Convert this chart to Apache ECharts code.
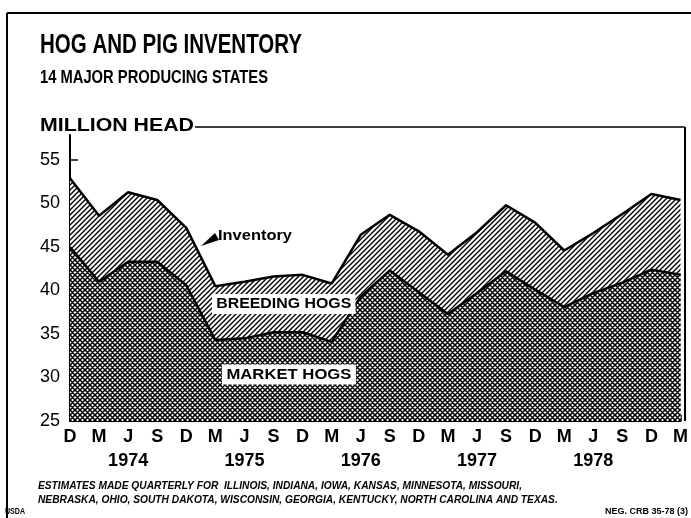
<!DOCTYPE html>
<html>
<head>
<meta charset="utf-8">
<script src="https://cdn.jsdelivr.net/npm/echarts@6/dist/echarts.min.js"></script>
<style>
html,body{margin:0;padding:0;background:#fff;}
#chart-container{width:691px;height:518px;}
</style>
</head>
<body>
<div id="chart-container"></div>
<script>
// quarters Dec 1973 .. Mar 1979
var quarters = ['D','M','J','S','D','M','J','S','D','M','J','S','D','M','J','S','D','M','J','S','D','M'];
var yearLabels = ['','','1974','','','','1975','','','','1976','','','','1977','','','','1978','','',''];
// total inventory (top line) and market hogs (lower line), million head
var inventory  = [52.9, 48.6, 51.3, 50.4, 47.2, 40.5, 41.0, 41.6, 41.8, 40.8, 46.4, 48.7, 46.8, 44.1, 46.7, 49.8, 47.8, 44.6, 46.6, 48.8, 51.1, 50.4];
var marketHogs = [45.0, 41.0, 43.3, 43.3, 40.6, 34.3, 34.5, 35.2, 35.2, 34.1, 39.3, 42.3, 39.8, 37.3, 39.7, 42.2, 40.1, 38.1, 39.7, 40.9, 42.4, 41.8];
var yTicks = [25, 30, 35, 40, 45, 50, 55];

var FONT = '"Liberation Sans", Arial, sans-serif';

// hatch fills
function hatch(size, cross, lw){
    var c = document.createElement('canvas');
    c.width = size; c.height = size;
    var ctx = c.getContext('2d');
    ctx.fillStyle = '#fff';
    ctx.fillRect(0, 0, size, size);
    ctx.strokeStyle = '#000';
    ctx.lineWidth = lw;
    ctx.beginPath();
    ctx.moveTo(-1, size + 1); ctx.lineTo(size + 1, -1);
    ctx.moveTo(-1, 1); ctx.lineTo(1, -1);
    ctx.moveTo(size - 1, size + 1); ctx.lineTo(size + 1, size - 1);
    if(cross){
        ctx.moveTo(-1, -1); ctx.lineTo(size + 1, size + 1);
        ctx.moveTo(size - 1, -1); ctx.lineTo(size + 1, 1);
        ctx.moveTo(-1, size - 1); ctx.lineTo(1, size + 1);
    }
    ctx.stroke();
    return c;
}

var measureCtx = document.createElement('canvas').getContext('2d');
function fit(text, font, width){
    measureCtx.font = font;
    return width / measureCtx.measureText(text).width;
}
function label(text, x, y, size, weight, width, extra){
    var font = weight + ' ' + size + 'px ' + FONT;
    var st = {text: text, font: font, fill: '#000', align: 'left', verticalAlign: 'middle'};
    for(var k in (extra || {})) st[k] = extra[k];
    return {type: 'text', x: x, y: y, z: 100, scaleX: width ? fit(text, font, width) : 1, style: st};
}
function rule(x1, y1, x2, y2, w){
    return {type: 'line', z: 90, shape: {x1: x1, y1: y1, x2: x2, y2: y2}, style: {stroke: '#000', lineWidth: w}};
}

var noteScale = fit('ESTIMATES MADE QUARTERLY FOR  ILLINOIS, INDIANA, IOWA, KANSAS, MINNESOTA, MISSOURI,', 'italic bold 10px ' + FONT, 484);

var option = {
    animation: false,
    backgroundColor: '#fff',
    grid: {left: 70, right: 7, top: 135, bottom: 97, containLabel: false},
    xAxis: {
        type: 'category',
        data: quarters,
        boundaryGap: false,
        axisLine: {lineStyle: {color: '#000', width: 2}},
        axisTick: {show: true, inside: true, length: 6, interval: 0, lineStyle: {color: '#000', width: 1.5}},
        axisLabel: {
            interval: 0,
            margin: 7,
            color: '#000',
            fontFamily: FONT,
            fontSize: 18,
            fontWeight: 'bold',
            lineHeight: 18,
            formatter: function(value, idx){
                return yearLabels[idx] ? value + '\n{yr|' + yearLabels[idx] + '}' : value;
            },
            rich: {
                yr: {fontFamily: FONT, fontSize: 18, fontWeight: 'bold', color: '#000', lineHeight: 31}
            }
        },
        splitLine: {show: false}
    },
    yAxis: {
        type: 'value',
        min: 25,
        max: 25 + 30 * 286 / 261,
        interval: 5,
        axisLine: {show: true, lineStyle: {color: '#000', width: 2}},
        axisTick: {show: true, inside: true, length: 8, customValues: yTicks, lineStyle: {color: '#000', width: 1.5}},
        axisLabel: {
            customValues: yTicks,
            margin: 10,
            color: '#000',
            fontFamily: FONT,
            fontSize: 18
        },
        splitLine: {show: false}
    },
    series: [
        {
            type: 'line',
            name: 'Inventory',
            data: inventory,
            symbol: 'none',
            z: 2,
            lineStyle: {color: '#000', width: 2.5},
            areaStyle: {color: {image: hatch(5, false, 1.4), repeat: 'repeat'}, opacity: 1, origin: 'start'}
        },
        {
            type: 'line',
            name: 'Market hogs',
            data: marketHogs,
            symbol: 'none',
            z: 3,
            lineStyle: {color: '#000', width: 2.5},
            areaStyle: {color: {image: hatch(5, true, 1.5), repeat: 'repeat'}, opacity: 1, origin: 'start'}
        }
    ],
    graphic: {elements: [
        rule(7, 13, 691, 13, 2),
        rule(7, 13, 7, 518, 2),
        rule(195, 127, 685, 127, 1.5),
        rule(685, 127, 685, 421, 2),
        label('HOG AND PIG INVENTORY', 40, 46, 27, 'bold', 262),
        label('14 MAJOR PRODUCING STATES', 40, 78, 18, 'bold', 228),
        label('MILLION HEAD', 40, 126, 19, 'bold', 154),
        label('Inventory', 218, 236, 15, 'bold', 74),
        {type: 'polygon', z: 100, shape: {points: [[201, 246], [215, 233], [219, 240]]}, style: {fill: '#000'}},
        label('BREEDING HOGS', 212, 304, 15, 'bold', 135, {backgroundColor: '#fff', padding: [3, 4, 2, 4]}),
        label('MARKET HOGS', 222, 374.5, 15, 'bold', 125, {backgroundColor: '#fff', padding: [3, 4, 2, 4]}),
        {type: 'text', x: 38, y: 486, z: 100, scaleX: noteScale, style: {text: 'ESTIMATES MADE QUARTERLY FOR  ILLINOIS, INDIANA, IOWA, KANSAS, MINNESOTA, MISSOURI,', font: 'italic bold 10px ' + FONT, fill: '#000', verticalAlign: 'middle'}},
        {type: 'text', x: 38, y: 500, z: 100, scaleX: noteScale, style: {text: 'NEBRASKA, OHIO, SOUTH DAKOTA, WISCONSIN, GEORGIA, KENTUCKY, NORTH CAROLINA AND TEXAS.', font: 'italic bold 10px ' + FONT, fill: '#000', verticalAlign: 'middle'}},
        label('USDA', 5, 512, 9, 'bold', 20),
        label('NEG. CRB 35-78 (3)', 688, 512, 9, 'bold', 0, {align: 'right'})
    ]}
};

var myChart = echarts.init(document.getElementById('chart-container'), null, {renderer: 'canvas'});
myChart.setOption(option);
</script>
</body>
</html>
